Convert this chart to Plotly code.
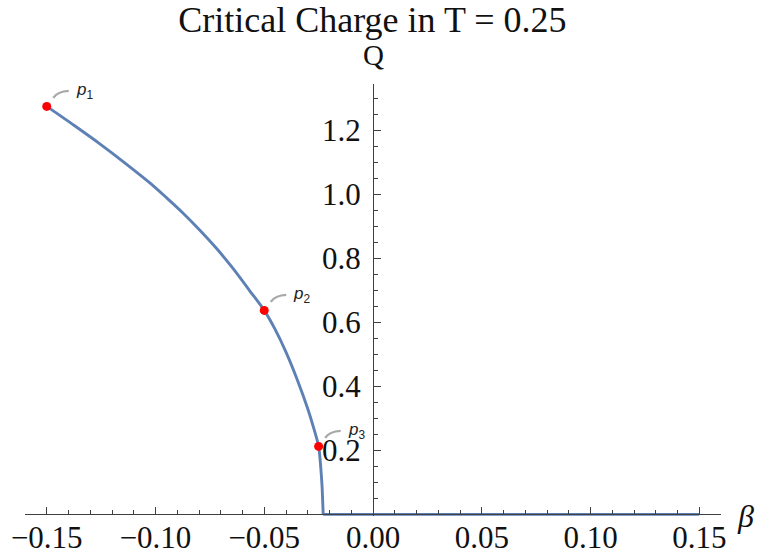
import plotly.graph_objects as go

# Critical charge Q versus beta at T = 0.25 (branch with Q > 0)
beta = [-0.150, -0.1375, -0.1256, -0.1140, -0.1026, -0.0950, -0.0874, -0.0796,
        -0.0718, -0.0642, -0.0566, -0.0500, -0.0450, -0.0400, -0.0350, -0.0300,
        -0.0275, -0.0250, -0.0240, -0.0234, -0.0231, -0.0229]
charge = [1.275, 1.216, 1.158, 1.098, 1.036, 0.990, 0.942, 0.888,
          0.830, 0.767, 0.698, 0.6375, 0.578, 0.507, 0.424, 0.330,
          0.275, 0.2125, 0.145, 0.085, 0.035, 0.0]

# Q = 0 branch
flat_beta = [-0.0229, 0.150]
flat_charge = [0.0, 0.0]

# Highlighted points
point_beta = [-0.150, -0.050, -0.025]
point_q = [1.275, 0.6375, 0.2125]
point_names = ["<i>p</i><sub>1</sub>", "<i>p</i><sub>2</sub>", "<i>p</i><sub>3</sub>"]

x_ticks = [-0.15, -0.10, -0.05, 0.00, 0.05, 0.10, 0.15]
x_tick_text = ["\u22120.15", "\u22120.10", "\u22120.05", "0.00", "0.05", "0.10", "0.15"]
y_ticks = [0.2, 0.4, 0.6, 0.8, 1.0, 1.2]
y_tick_text = ["0.2", "0.4", "0.6", "0.8", "1.0", "1.2"]

x_range = [-0.16, 0.16]
y_range = [-0.005, 1.345]

serif = "Liberation Serif, Times New Roman, serif"
axis_color = "#404040"
curve_color = "#5E81B5"

fig = go.Figure()

fig.add_trace(go.Scatter(
    x=beta, y=charge, mode="lines",
    line=dict(color=curve_color, width=2.9, shape="spline", smoothing=0.8),
    hoverinfo="skip", showlegend=False,
))
fig.add_trace(go.Scatter(
    x=flat_beta, y=flat_charge, mode="lines",
    line=dict(color=curve_color, width=2.9),
    hoverinfo="skip", showlegend=False,
))

fig.add_trace(go.Scatter(
    x=point_beta, y=point_q, mode="markers",
    marker=dict(color="#FF0000", size=9),
    showlegend=False, cliponaxis=False,
))

# Leader strokes and labels for the highlighted points
for bx, qy, name in zip(point_beta, point_q, point_names):
    fig.add_shape(
        type="path", xref="x", yref="y",
        xsizemode="pixel", ysizemode="pixel",
        xanchor=bx, yanchor=qy,
        path="M 6.5,8.5 Q 11,15 22,15.5",
        line=dict(color="#A8A8A8", width=2.4),
        layer="above",
    )
    fig.add_annotation(
        x=bx, y=qy, xref="x", yref="y", text=name, showarrow=False,
        xanchor="left", yanchor="middle", xshift=27, yshift=15,
        font=dict(family="Liberation Sans, Arial, sans-serif", size=17, color="#222222"),
    )

# Axis titles placed at the ends of the axes
fig.add_annotation(
    x=0, y=1.0, xref="x", yref="paper", text="Q", showarrow=False,
    xanchor="center", yanchor="bottom", yshift=11,
    font=dict(family=serif, size=29, color="#111111"),
)
fig.add_annotation(
    x=1.0, y=0, xref="paper", yref="y", text="<i>\u03b2</i>", showarrow=False,
    xanchor="left", yanchor="middle", xshift=14, yshift=-2,
    font=dict(family=serif, size=32, color="#111111"),
)

x_zero_frac = (0 - y_range[0]) / (y_range[1] - y_range[0])
y_zero_frac = (0 - x_range[0]) / (x_range[1] - x_range[0])

fig.update_layout(
    width=757, height=554,
    margin=dict(l=25, r=36, t=84, b=38),
    paper_bgcolor="white", plot_bgcolor="white",
    title=dict(
        text="Critical Charge in T = 0.25",
        x=0.492, xanchor="center", y=1 - 19 / 554, yanchor="middle",
        font=dict(family=serif, size=36, color="#111111"),
    ),
    xaxis=dict(
        range=x_range, domain=[0, 1], automargin=False,
        anchor="free", position=x_zero_frac,
        showgrid=False, zeroline=False,
        showline=True, linecolor=axis_color, linewidth=1.2,
        tickmode="array", tickvals=x_ticks, ticktext=x_tick_text,
        ticks="inside", ticklen=7, tickwidth=1.1, tickcolor=axis_color,
        minor=dict(dtick=0.01, tick0=0, ticks="inside", ticklen=4,
                   tickwidth=1, tickcolor=axis_color, showgrid=False),
        tickfont=dict(family=serif, size=31, color="#111111"),
        ticklabelstandoff=-5,
    ),
    yaxis=dict(
        range=y_range, domain=[0, 1], automargin=False,
        anchor="free", position=y_zero_frac,
        showgrid=False, zeroline=False,
        showline=True, linecolor=axis_color, linewidth=1.2,
        tickmode="array", tickvals=y_ticks, ticktext=y_tick_text,
        ticks="inside", ticklen=7, tickwidth=1.1, tickcolor=axis_color,
        minor=dict(dtick=0.05, tick0=0, ticks="inside", ticklen=4,
                   tickwidth=1, tickcolor=axis_color, showgrid=False),
        tickfont=dict(family=serif, size=31, color="#111111"),
        ticklabelstandoff=6,
    ),
)

fig.write_html("out.html")
